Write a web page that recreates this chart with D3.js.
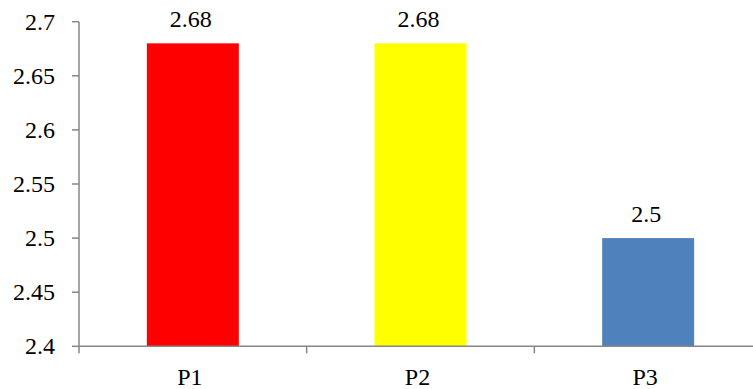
<!DOCTYPE html>
<html><head><meta charset="utf-8">
<script src="https://cdn.jsdelivr.net/npm/d3@7"></script>
<style>body{margin:0;background:#fff}svg{display:block}text{font-family:"Liberation Serif","Times New Roman",Times,serif;font-size:24px}</style>
</head><body>
<svg id="c" width="753" height="389"></svg>
<script>
const categories = ["P1", "P2", "P3"];
const values = [2.68, 2.68, 2.5];
const labels = ["2.68", "2.68", "2.5"];
const colors = ["#FF0000", "#FFFF00", "#4F81BD"];
const yTicks = [2.4, 2.45, 2.5, 2.55, 2.6, 2.65, 2.7];
const yTickLabels = ["2.4", "2.45", "2.5", "2.55", "2.6", "2.65", "2.7"];

const svg = d3.select("#c");
const plotLeft = 79, plotRight = 762, plotTop = 21.7, plotBottom = 346.3;
const axisColor = "#868686";

const x = d3.scaleBand().domain(categories).range([plotLeft, plotRight]).padding(0);
const y = d3.scaleLinear().domain([2.4, 2.7]).range([plotBottom, plotTop]);
const bw = x.bandwidth() * 0.404;

// bars
svg.selectAll("rect.bar").data(categories).enter().append("rect")
  .attr("x", (d) => x(d) + x.bandwidth() / 2 - bw / 2)
  .attr("y", (d, i) => y(values[i]))
  .attr("width", bw)
  .attr("height", (d, i) => y(2.4) - y(values[i]))
  .attr("fill", (d, i) => colors[i]);

// value labels
svg.selectAll("text.val").data(categories).enter().append("text")
  .attr("x", (d) => x(d) + x.bandwidth() / 2 - 2)
  .attr("y", (d, i) => y(values[i]) - 16)
  .attr("text-anchor", "middle")
  .attr("fill", "#000")
  .text((d, i) => labels[i]);

// y axis
const yAxis = svg.append("g");
yAxis.append("line").attr("x1", plotLeft).attr("x2", plotLeft).attr("y1", plotTop).attr("y2", plotBottom)
  .attr("stroke", axisColor).attr("stroke-width", 1.5);
yTicks.forEach((t, i) => {
  yAxis.append("line").attr("x1", plotLeft - 7).attr("x2", plotLeft).attr("y1", y(t)).attr("y2", y(t))
    .attr("stroke", axisColor).attr("stroke-width", 1.5);
  yAxis.append("text").attr("x", 55).attr("y", y(t)).attr("dy", "0.33em")
    .attr("text-anchor", "end")
    .attr("fill", "#000")
    .text(yTickLabels[i]);
});

// x axis
const xAxis = svg.append("g");
xAxis.append("line").attr("x1", plotLeft).attr("x2", 753).attr("y1", plotBottom).attr("y2", plotBottom)
  .attr("stroke", axisColor).attr("stroke-width", 1.5);
const bounds = categories.map((c) => x(c)).concat([x(categories[categories.length - 1]) + x.bandwidth()]);
bounds.forEach((b) => {
  xAxis.append("line").attr("x1", b).attr("x2", b).attr("y1", plotBottom).attr("y2", plotBottom + 7)
    .attr("stroke", axisColor).attr("stroke-width", 1.5);
});
categories.forEach((c) => {
  xAxis.append("text").attr("x", x(c) + x.bandwidth() / 2 - 3).attr("y", 385)
    .attr("text-anchor", "middle")
    .attr("fill", "#000")
    .text(c);
});
</script>
</body></html>
